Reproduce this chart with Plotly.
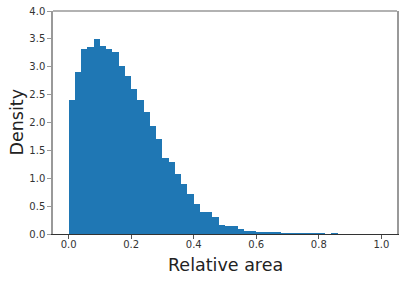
import plotly.graph_objects as go

# Histogram: 50 bins of width 0.02 on [0, 1], normalised to density
bin_start = 0.0
bin_width = 0.02
densities = [
    2.41, 2.90, 3.32, 3.35, 3.49, 3.37, 3.31, 3.27, 3.01, 2.83,
    2.60, 2.41, 2.19, 1.93, 1.71, 1.37, 1.30, 1.08, 0.89, 0.71,
    0.53, 0.39, 0.39, 0.30, 0.17, 0.14, 0.14, 0.09, 0.06, 0.06,
    0.04, 0.04, 0.04, 0.02, 0.01, 0.01, 0.01, 0.01, 0.01, 0.01,
    0.01, 0.0, 0.015, 0.0, 0.0, 0.0, 0.0, 0.0, 0.0, 0.0,
]
x_ticks = [0.0, 0.2, 0.4, 0.6, 0.8, 1.0]
y_ticks = [0.0, 0.5, 1.0, 1.5, 2.0, 2.5, 3.0, 3.5, 4.0]
x_label = "Relative area"
y_label = "Density"

centers = [bin_start + bin_width * (i + 0.5) for i in range(len(densities))]

fig = go.Figure(
    go.Bar(
        x=centers,
        y=densities,
        width=[bin_width] * len(densities),
        marker=dict(color="#1f77b4", line=dict(width=0)),
        hoverinfo="x+y",
    )
)

font_family = "DejaVu Sans"
fig.update_layout(
    width=407,
    height=281,
    margin=dict(l=53, r=10, t=11, b=47, autoexpand=False),
    paper_bgcolor="white",
    plot_bgcolor="white",
    showlegend=False,
    bargap=0,
    font=dict(family=font_family, color="#333333", size=10),
    xaxis=dict(
        range=[-0.05, 1.05],
        automargin=False,
        tickvals=x_ticks,
        ticktext=[f"{v:.1f}" for v in x_ticks],
        ticks="outside",
        ticklen=4,
        tickwidth=1,
        tickcolor="#555555",
        ticklabelstandoff=-3,
        showline=True,
        linecolor="#333333",
        linewidth=1,
        showgrid=False,
        zeroline=False,
        tickfont=dict(size=10, color="#333333"),
    ),
    yaxis=dict(
        range=[0, 4.0],
        automargin=False,
        tickvals=y_ticks,
        ticktext=[f"{v:.1f}" for v in y_ticks],
        ticks="outside",
        ticklen=4,
        tickwidth=1,
        tickcolor="#999999",
        ticklabeloverflow="allow",
        showline=True,
        linecolor="#999999",
        linewidth=1.5,
        mirror=True,
        showgrid=False,
        zeroline=False,
        tickfont=dict(size=10, color="#333333"),
    ),
    shapes=[
        dict(type="line", xref="paper", yref="paper", x0=0, x1=1, y0=1, y1=1,
             line=dict(color="#999999", width=1.5)),
    ],
    annotations=[
        dict(text=x_label, xref="paper", yref="paper", x=0.5, y=0,
             xanchor="center", yanchor="middle", yshift=-31, showarrow=False,
             font=dict(size=17.5, color="#222222", family=font_family)),
        dict(text=y_label, xref="paper", yref="paper", x=0, y=0.5,
             xanchor="center", yanchor="middle", xshift=-37, textangle=-90,
             showarrow=False,
             font=dict(size=17.5, color="#222222", family=font_family)),
    ],
)

# remove the browser's default 8px body margin so the figure fills the window
fig.write_html(
    "out.html",
    config={"displayModeBar": False},
    post_script="document.body.style.margin='0';",
)
